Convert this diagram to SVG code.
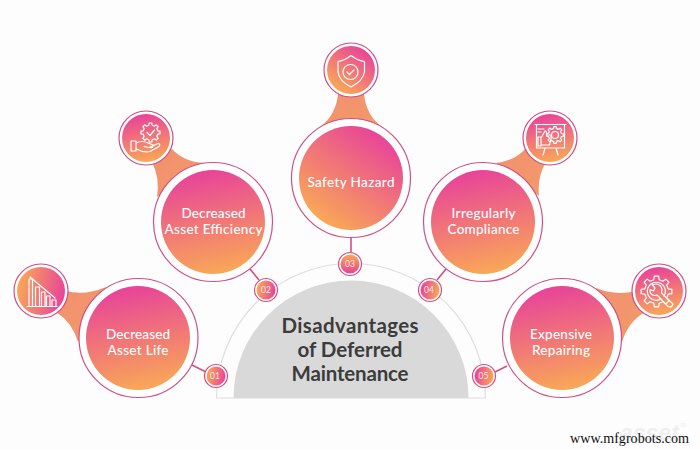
<svg xmlns="http://www.w3.org/2000/svg" width="700" height="450" viewBox="0 0 700 450">
<style>
.lbl{font-family:Lato,"Open Sans",sans-serif;font-size:13.500px;font-weight:500;fill:#fff;text-anchor:middle}
.ttl{font-family:Lato,"Open Sans",sans-serif;font-size:20.500px;font-weight:700;fill:#3c3c3c;text-anchor:middle}
.num{font-family:Lato,"Open Sans",sans-serif;font-size:8.500px;font-weight:400;fill:#fff;fill-opacity:.85;text-anchor:middle}
.ring{fill:#fff;stroke:#cf4f86;stroke-width:1.2}
.neck{fill:url(#gN)}
.ic{fill:none;stroke:#fff;stroke-width:1.2;stroke-linejoin:round;stroke-linecap:round}
.gear{fill:none;stroke:#fff;stroke-width:1.2;stroke-linejoin:round;vector-effect:non-scaling-stroke}
.link{stroke:#d4507f;stroke-width:1.6;fill:none}
</style>
<defs>
<linearGradient id="gV" x1=".4" y1="0" x2=".6" y2="1"><stop offset="0" stop-color="#e8429a"/><stop offset="1" stop-color="#f9a956"/></linearGradient>
<linearGradient id="gD" x1=".85" y1=".1" x2=".25" y2=".95"><stop offset="0" stop-color="#e8429a"/><stop offset="1" stop-color="#f9a956"/></linearGradient>
<linearGradient id="gR" x1="0" y1=".4" x2="1" y2=".6"><stop offset="0" stop-color="#f9a956"/><stop offset="1" stop-color="#e8429a"/></linearGradient>
<linearGradient id="gL" x1="0" y1=".4" x2="1" y2=".6"><stop offset="0" stop-color="#e8429a"/><stop offset="1" stop-color="#f9a956"/></linearGradient>
<linearGradient id="gU" x1=".5" y1="0" x2=".5" y2="1"><stop offset="0" stop-color="#f9a956"/><stop offset="1" stop-color="#e8429a"/></linearGradient>
<linearGradient id="gN" x1="0" y1="0" x2="1" y2="1"><stop offset="0" stop-color="#f19070"/><stop offset="1" stop-color="#f39a68"/></linearGradient>
<path id="gearShape" class="gear" d="M11.690 -2.700L15.350 -2.160L15.350 2.160L11.690 2.700L10.180 6.360L12.380 9.330L9.330 12.380L6.360 10.180L2.700 11.690L2.160 15.350L-2.160 15.350L-2.700 11.690L-6.360 10.180L-9.330 12.380L-12.380 9.330L-10.180 6.360L-11.690 2.700L-15.350 2.160L-15.350 -2.160L-11.690 -2.700L-10.180 -6.360L-12.380 -9.330L-9.330 -12.380L-6.360 -10.180L-2.700 -11.690L-2.160 -15.350L2.160 -15.350L2.700 -11.690L6.360 -10.180L9.330 -12.380L12.380 -9.330L10.180 -6.360Z"/>
</defs>
<rect width="700" height="450" fill="#fdfdfd"/>
<text x="620" y="441" font-family="Liberation Sans,sans-serif" font-size="23" font-weight="700" font-style="italic" fill="#efefef">asset</text>
<text x="679" y="428" font-family="DejaVu Sans,sans-serif" font-size="10" fill="#efefef">∞</text>
<g id="hub">
<path d="M216.500 398A134.500 134.500 0 0 1 485.500 398Z" fill="none" stroke="#dedede" stroke-width="1.2"/>
<path d="M233.500 398A117.500 117.500 0 0 1 468.500 398Z" fill="#d9d9d9"/>
<text class="ttl" x="350" y="333" textLength="137">Disadvantages</text>
<text class="ttl" x="350" y="357" textLength="105">of Deferred</text>
<text class="ttl" x="350" y="381" textLength="117">Maintenance</text>
</g>
<g id="connectors">
<path class="link" d="M192 365L206 372M250 269L259 280M351 238V252M446 269L437 280M507 366L495 372"/>
<path class="neck" d="M66 291Q85 296 106 287L78 342Q72 322 56 312Z"/>
<path class="neck" d="M152 162Q160 178 157 197L204 163Q184 162 172 149Z"/>
<path class="neck" d="M338 94Q336 115 320 127L382 127Q366 115 364 94Z"/>
<path class="neck" d="M496 163Q515 161 526 148L546 162Q537 177 539 196Z"/>
<path class="neck" d="M596 288Q615 296 636 291L645 312Q628 322 622 342Z"/>
</g>
<g id="node1">
<circle class="ring" cx="138.500" cy="338" r="59.500"/><circle cx="138" cy="338" r="52" fill="url(#gV)"/>
<text class="lbl" x="138" y="339" textLength="64">Decreased</text>
<text class="lbl" x="138" y="355" textLength="61">Asset Life</text>
<circle class="ring" cx="41" cy="291" r="27"/><circle cx="41" cy="291" r="24" fill="url(#gR)"/>
<path class="ic" d="M29 306V279H32.500V306M35.500 306V287H39.500V306M41.500 306V292H45V306M46.500 306V296H50V306M52 306V300H56V306M27 306.500H57"/>
<path class="ic" d="M30 277L55 298" stroke-width="1.6"/>
<circle cx="216" cy="376" r="11.500" class="ring"/><circle cx="216" cy="376" r="9.500" fill="url(#gR)"/>
<text class="num" x="215" y="379">01</text>
</g>
<g id="node2">
<circle class="ring" cx="213" cy="222" r="59.500"/><circle cx="213" cy="222" r="52" fill="url(#gV)"/>
<text class="lbl" x="213.500" y="218" textLength="64">Decreased</text>
<text class="lbl" x="213.500" y="234" textLength="98">Asset Efficiency</text>
<circle class="ring" cx="146" cy="138" r="27"/><circle cx="146" cy="138" r="24" fill="url(#gV)"/>
<use href="#gearShape" transform="translate(150.500 132.500) scale(.62)"/>
<path class="ic" d="M147 132.500L150 135.500L154.500 130"/>
<path class="ic" d="M131 141H136V151H131ZM136 143Q142 140 148 143L153 145Q154 148 149 147.500L144 146.500M150 147L158 143.500Q161 144 159 146.500L150 151.500Q144 153 136 149"/>
<circle cx="266" cy="290" r="11.500" class="ring"/><circle cx="266" cy="290" r="9.500" fill="url(#gR)"/>
<text class="num" x="266" y="293">02</text>
</g>
<g id="node3">
<circle class="ring" cx="351" cy="178" r="59.500"/><circle cx="351" cy="178" r="52" fill="url(#gD)"/>
<text class="lbl" x="351" y="187" textLength="87">Safety Hazard</text>
<circle class="ring" cx="351" cy="70" r="27"/><circle cx="351" cy="70" r="24" fill="url(#gD)"/>
<path class="ic" d="M351 55.500Q344 61 338 61.500V72Q339 81 351 87Q363 81 364.500 72V61.500Q358 61 351 55.500Z"/>
<circle class="ic" cx="350.500" cy="72" r="7.500"/>
<path class="ic" d="M347 72L349.500 74.500L354 70"/>
<circle cx="350" cy="264" r="11.500" class="ring"/><circle cx="350" cy="264" r="9.500" fill="url(#gU)"/>
<text class="num" x="350" y="267">03</text>
</g>
<g id="node4">
<circle class="ring" cx="483" cy="222" r="59.500"/><circle cx="483" cy="222" r="52" fill="url(#gV)"/>
<text class="lbl" x="483.500" y="218" textLength="64">Irregularly</text>
<text class="lbl" x="483.500" y="234" textLength="72">Compliance</text>
<circle class="ring" cx="550" cy="138" r="27"/><circle cx="550" cy="138" r="24" fill="url(#gV)"/>
<path class="ic" d="M535 124.500H566M536.500 124.500V148M564.500 124.500V148H536.500M545 148L543 155M556 148L558 155"/>
<path class="ic" d="M538 137H541V146H538ZM541 138L545 131Q547 131 546.500 135H551V139L549.500 145H541"/>
<use href="#gearShape" transform="translate(555 135) scale(.55)"/>
<circle class="ic" cx="555" cy="135" r="3.500"/>
<path class="ic" d="M538 129H544M538 132H541"/>
<circle cx="430" cy="290" r="11.500" class="ring"/><circle cx="430" cy="290" r="9.500" fill="url(#gL)"/>
<text class="num" x="429" y="293">04</text>
</g>
<g id="node5">
<circle class="ring" cx="562" cy="338" r="59.500"/><circle cx="562" cy="338" r="52" fill="url(#gV)"/>
<text class="lbl" x="561" y="339" textLength="62">Expensive</text>
<text class="lbl" x="561" y="355" textLength="58">Repairing</text>
<circle class="ring" cx="659" cy="291" r="27"/><circle cx="659" cy="291" r="24" fill="url(#gV)"/>
<use href="#gearShape" transform="translate(656.500 291.500)"/>
<path class="ic" d="M664 296A9 9 0 1 0 660 299.500"/>
<path class="ic" d="M652 284.500L655 288L653.500 291L650 289.500Q649.500 295 654.500 295.500L657 295L668 306.500Q672 308 673 304L661.500 293Q663.500 286 657 284Z"/>
<circle cx="484" cy="376" r="11.500" class="ring"/><circle cx="484" cy="376" r="9.500" fill="url(#gL)"/>
<text class="num" x="483.500" y="379">05</text>
</g>
<text x="570" y="443" font-family="Liberation Serif,serif" font-size="14" fill="#111" textLength="119" lengthAdjust="spacingAndGlyphs">www.mfgrobots.com</text>
</svg>
